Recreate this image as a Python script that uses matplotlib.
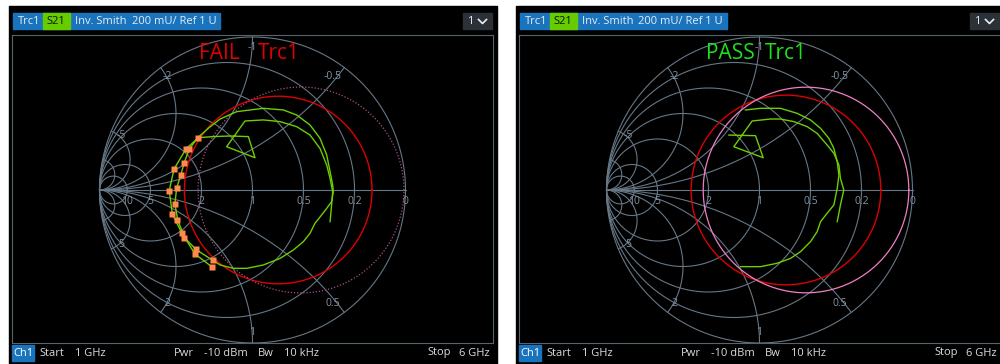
import numpy as np
import matplotlib.pyplot as plt
from matplotlib.patches import Rectangle

plt.rcParams['font.family'] = ['Open Sans', 'DejaVu Sans']

# Inverted (admittance) Smith grid
g_circles = [0.2, 0.5, 1, 2, 5, 10]
b_arcs = [0.5, 1, 2, 5, 10]
g_label_vals = [0, 0.2, 0.5, 1, 2, 5, 10]
b_label_vals = [-0.5, -1, -2, -5, 0.5, 1, 2, 5]

# FAIL panel: S21 trace as reflection coefficient (re, im)
fail_outer_re = [-0.358, -0.289, -0.212, -0.103, 0.071, 0.202, 0.289, 0.376, 0.441, 0.485,
                 0.507, 0.524, 0.528, 0.517, 0.485, 0.452, 0.408, 0.376, 0.332, 0.267,
                 0.180, 0.071, -0.038, -0.125, -0.212, -0.256, -0.365, -0.441, -0.489,
                 -0.507, -0.496, -0.469, -0.446, -0.413, -0.358]
fail_outer_im = [0.342, 0.403, 0.464, 0.512, 0.534, 0.523, 0.490, 0.425, 0.338, 0.229,
                 0.120, 0.033, -0.011, -0.076, -0.120, -0.163, -0.218, -0.283, -0.338, -0.392,
                 -0.447, -0.490, -0.512, -0.512, -0.490, -0.462, -0.392, -0.316, -0.196,
                 -0.089, 0.011, 0.096, 0.179, 0.268, 0.342]
fail_inner_re = [0.507, 0.517, 0.524, 0.507, 0.485, 0.441, 0.376, 0.289, 0.180, 0.071,
                 -0.049, -0.169, 0.016, -0.027, -0.147, -0.256, -0.354, -0.435, -0.513,
                 -0.544, -0.524, -0.463, -0.376, -0.267]
fail_inner_im = [-0.207, -0.098, -0.011, 0.076, 0.163, 0.272, 0.359, 0.414, 0.447, 0.458,
                 0.451, 0.283, 0.211, 0.349, 0.353, 0.349, 0.342, 0.268, 0.137,
                 -0.004, -0.157, -0.279, -0.418, -0.501]
# points violating the limit
fail_pts_re = [-0.358, -0.435, -0.413, -0.446, -0.513, -0.469, -0.495, -0.544, -0.508,
               -0.524, -0.493, -0.463, -0.446, -0.369, -0.376, -0.256, -0.267]
fail_pts_im = [0.342, 0.268, 0.268, 0.178, 0.137, 0.096, 0.011, -0.005, -0.090,
               -0.157, -0.196, -0.279, -0.316, -0.386, -0.418, -0.458, -0.501]

# PASS panel
pass_outer_re = [-0.092, 0.007, 0.137, 0.246, 0.333, 0.399, 0.453, 0.486, 0.508, 0.519,
                 0.508, 0.486, 0.442, 0.399, 0.377, 0.333, 0.268, 0.203, 0.115, 0.007, -0.124]
pass_outer_im = [0.523, 0.534, 0.534, 0.501, 0.458, 0.403, 0.338, 0.272, 0.185, 0.098,
                 0.011, -0.098, -0.152, -0.207, -0.272, -0.338, -0.403, -0.447, -0.479,
                 -0.501, -0.501]
pass_inner_re = [-0.200, -0.026, 0.024, -0.168, -0.048, 0.072, 0.137, 0.224, 0.312, 0.377,
                 0.442, 0.486, 0.519, 0.529, 0.551, 0.529, 0.508]
pass_inner_im = [0.359, 0.355, 0.211, 0.283, 0.451, 0.464, 0.464, 0.447, 0.414, 0.370,
                 0.294, 0.240, 0.163, 0.076, 0.000, -0.098, -0.207]

# limit circles: (center re, radius)
fail_red = (0.168, 0.613)
fail_pink = (0.317, 0.673)
pass_red = (0.173, 0.620)
pass_pink = (0.304, 0.672)

footer_items = [('Start', 39), ('1 GHz', 75), ('Pwr', 174), ('-10 dBm', 204),
                ('Bw', 258), ('10 kHz', 284), ('Stop', 427), ('6 GHz', 459)]

BLUE = '#1a73bd'
LIME = '#66cc00'
GRID = '#667786'
LBL = '#8494a3'
TRACE = '#6ccf00'

fig = plt.figure(figsize=(10, 3.64), dpi=100, facecolor='white')
bg = fig.add_axes([0, 0, 1, 1])
bg.set_xlim(0, 1000)
bg.set_ylim(364, 0)
bg.axis('off')

t = np.linspace(0, 2 * np.pi, 500)


def smith_grid(ax):
    ax.plot(np.cos(t), np.sin(t), color=GRID, lw=0.8)
    ax.plot([-1, 1], [0, 0], color=GRID, lw=0.8)
    for g in g_circles:
        c = -g / (1 + g)
        r = 1 / (1 + g)
        ax.plot(c + r * np.cos(t), r * np.sin(t), color=GRID, lw=0.8)
    gg = np.tan(np.linspace(0, np.pi / 2 - 1e-3, 400))
    for b in b_arcs:
        for s in (1, -1):
            y = gg + 1j * s * b
            G = (1 - y) / (1 + y)
            ax.plot(G.real, G.imag, color=GRID, lw=0.8)
    for g in g_label_vals:
        ax.text((1 - g) / (1 + g), -0.072, '%g' % g, color=LBL, fontsize=7.5,
                ha='center', va='center')
    for b in b_label_vals:
        G = (1 - 1j * b) / (1 + 1j * b) * 0.93
        x = G.real - 0.033 if G.real > 0.3 else G.real
        ax.text(x, G.imag, '%g' % b, color=LBL, fontsize=7.5,
                ha='center', va='center')


def panel(dx, x_ax, w_ax, word, wcol, outer, inner, pts, red, pink, pink_ls, pink_col):
    bg.add_patch(Rectangle((9 + dx, 6), 488, 358, color='black'))
    # header
    bg.add_patch(Rectangle((13 + dx, 13.3), 207, 16, color=BLUE))
    bg.add_patch(Rectangle((43 + dx, 13.3), 27, 16, color=LIME))
    bg.text(17.5 + dx, 21.5, 'Trc1', color='#e6eef6', fontsize=8, va='center')
    bg.text(46.5 + dx, 21.5, 'S21', color='#0a1a00', fontsize=8, va='center')
    bg.text(75 + dx, 21.5, 'Inv. Smith', color='#e6eef6', fontsize=8, va='center')
    bg.text(131.5 + dx, 21.5, '200 mU/ Ref 1 U', color='#e6eef6', fontsize=8, va='center')
    bg.add_patch(Rectangle((463 + dx, 13.3), 29, 16, color='#2b3137'))
    bg.text(467 + dx, 21.5, '1', color='#e6eef6', fontsize=8, va='center')
    bg.plot([478.5 + dx, 482.5 + dx, 486.5 + dx], [19.5, 23.5, 19.5], color='#e6eef6', lw=1.2)
    # footer
    bg.add_patch(Rectangle((12 + dx, 345), 22, 16, color=BLUE))
    bg.text(13.5 + dx, 353, 'Ch1', color='white', fontsize=8, va='center')
    for s, x in footer_items:
        bg.text(x + dx, 353, s, color='#d8dde2', fontsize=8, va='center')

    ax = fig.add_axes([x_ax / 1000, 21 / 364, w_ax / 1000, 308 / 364])
    ax.set_facecolor('black')
    ax.set_xlim((12 - 252.5) / 153, (493 - 252.5) / 153)
    ax.set_ylim(-1.0, 155 / 153)
    ax.set_xticks([])
    ax.set_yticks([])
    for sp in ax.spines.values():
        sp.set_color('#58636d')
        sp.set_linewidth(0.8)
    if x_ax + w_ax >= 1000:
        ax.spines['right'].set_visible(False)
    smith_grid(ax)
    ax.plot(red[0] + red[1] * np.cos(t), red[1] * np.sin(t), color='#dd0000', lw=1.0)
    ax.plot(pink[0] + pink[1] * np.cos(t), pink[1] * np.sin(t), color=pink_col,
            lw=0.9, ls=pink_ls)
    ax.plot(outer[0], outer[1], color=TRACE, lw=1.0)
    ax.plot(inner[0], inner[1], color=TRACE, lw=1.0)
    if pts is not None:
        ax.plot(pts[0], pts[1], 's', color='#ff8a4c', ms=4.5, mec='none')
    ax.text(-0.35, 0.89, word, color=wcol, fontsize=15, va='center')
    ax.text(0.035, 0.89, 'Trc1', color=wcol, fontsize=15, va='center')


panel(0, 12, 481, 'FAIL', '#e00000', (fail_outer_re, fail_outer_im),
      (fail_inner_re, fail_inner_im), (fail_pts_re, fail_pts_im),
      fail_red, fail_pink, (0, (1, 1.5)), '#a8527f')
panel(507, 519, 481, 'PASS', '#1ee01e', (pass_outer_re, pass_outer_im),
      (pass_inner_re, pass_inner_im), None,
      pass_red, pass_pink, '-', '#f07fc4')

fig.savefig('out.png', dpi=100, facecolor='white')
